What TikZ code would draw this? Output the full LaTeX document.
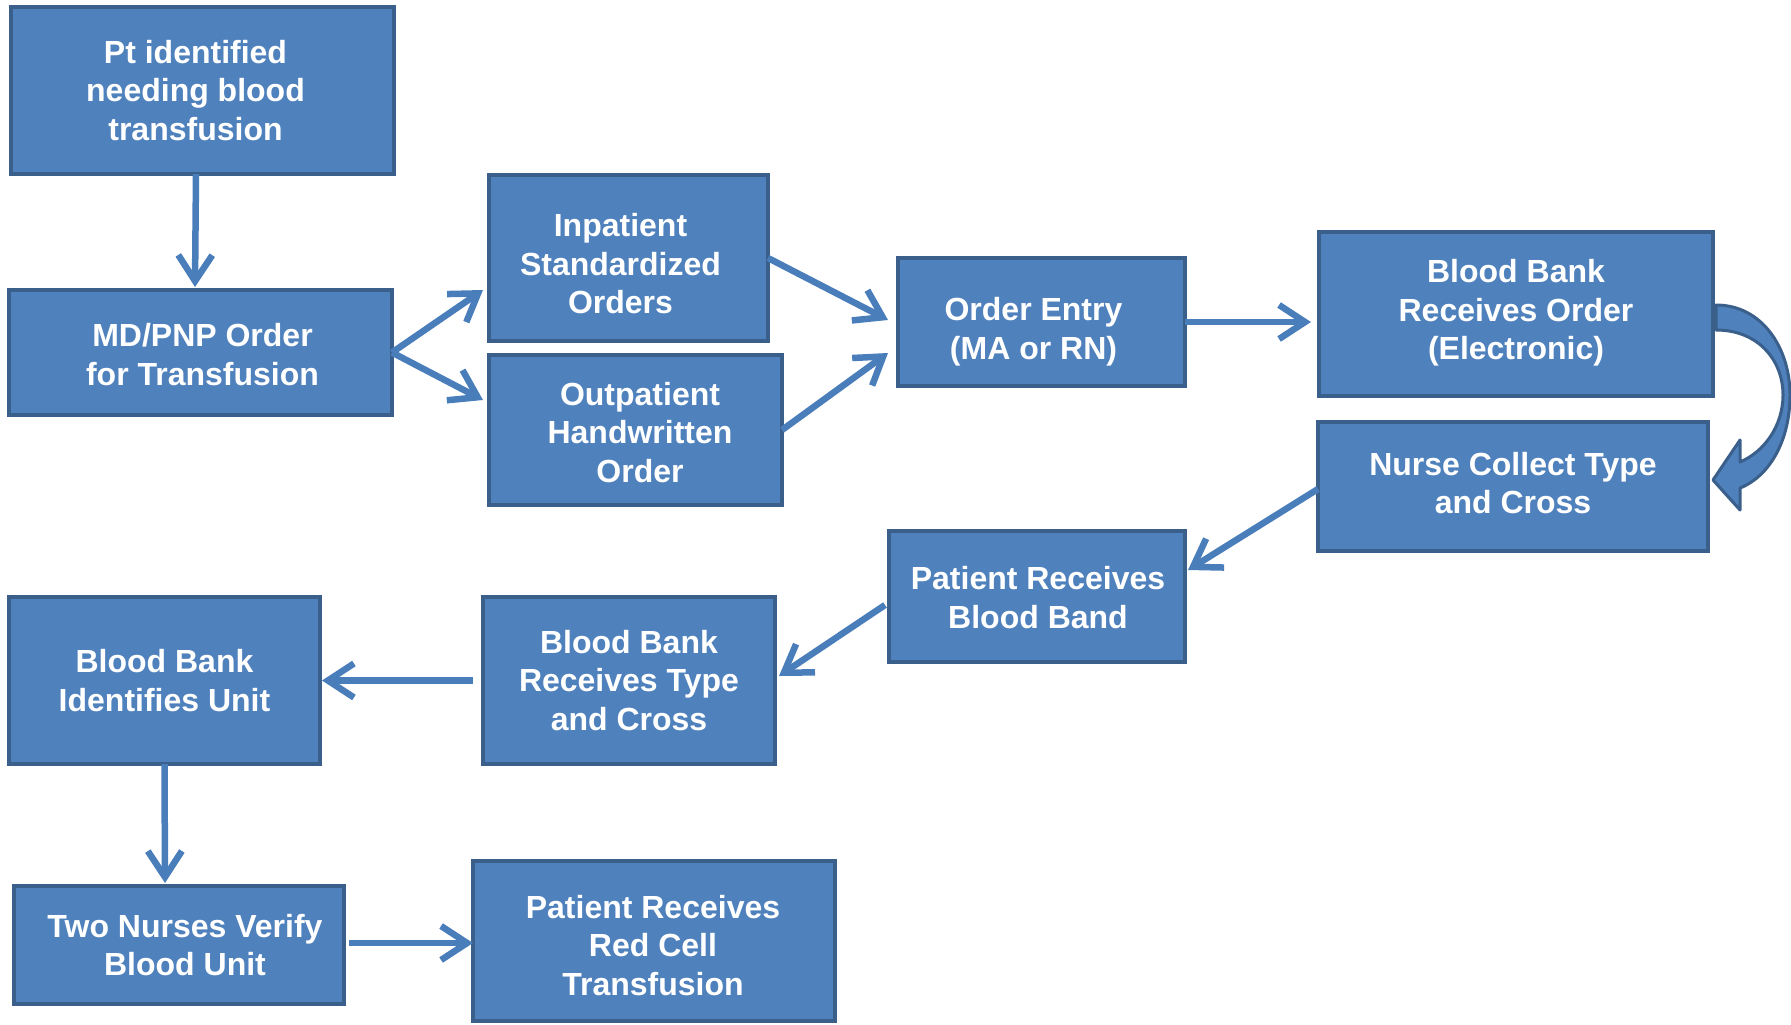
\documentclass[tikz,border=0pt]{standalone}
\usepackage{fontspec}
\setmainfont{Liberation Sans}
\usetikzlibrary{arrows.meta}
\definecolor{boxfill}{HTML}{4F81BD}
\definecolor{boxline}{HTML}{3A5F8B}
\definecolor{arrowc}{HTML}{4A7EBB}
\begin{document}
\begin{tikzpicture}[x=1pt,y=-1pt,
  procbox/.style={draw=boxline, fill=boxfill, line width=4.5pt, inner sep=0pt, outer sep=0pt},
  boxtext/.style={text=white, font=\bfseries\fontsize{32}{38.5}\selectfont, align=center, inner sep=0pt},
  flow/.style={draw=arrowc, line width=6.5pt, -{Straight Barb[length=26pt,width=34pt]}}]
\useasboundingbox (0,0) rectangle (1791,1025);

% boxes
\node[procbox, minimum width=383pt, minimum height=167pt] (b1) at (202.5,90.5) {};
\node[procbox, minimum width=383pt, minimum height=125pt] (b2) at (200.5,352.5) {};
\node[procbox, minimum width=279pt, minimum height=166pt] (b3) at (628.5,258) {};
\node[procbox, minimum width=293pt, minimum height=150pt] (b4) at (635.5,430) {};
\node[procbox, minimum width=287pt, minimum height=128pt] (b5) at (1041.5,322) {};
\node[procbox, minimum width=394pt, minimum height=164pt] (b6) at (1516,314) {};
\node[procbox, minimum width=390pt, minimum height=129pt] (b7) at (1513,486.5) {};
\node[procbox, minimum width=296pt, minimum height=131pt] (b8) at (1037,596.5) {};
\node[procbox, minimum width=292pt, minimum height=167pt] (b9) at (629,680.5) {};
\node[procbox, minimum width=311pt, minimum height=167pt] (b10) at (164.5,680.5) {};
\node[procbox, minimum width=330pt, minimum height=118pt] (b11) at (179,945) {};
\node[procbox, minimum width=362pt, minimum height=160pt] (b12) at (654,941) {};

% texts
\node[boxtext] (t1) at ([xshift=-7pt]b1.center) {Pt identified\\needing blood\\transfusion};
\node[boxtext] (t2) at ([xshift=2pt,yshift=-2pt]b2.center) {MD/PNP Order\\for Transfusion};
\node[boxtext] (t3) at ([xshift=-8pt,yshift=-6pt]b3.center) {Inpatient\\Standardized\\Orders};
\node[boxtext] (t4) at ([xshift=4.5pt,yshift=-2.5pt]b4.center) {Outpatient\\Handwritten\\Order};
\node[boxtext] (t5) at ([xshift=-8pt,yshift=-9.5pt]b5.center) {Order Entry\\(MA or RN)};
\node[boxtext] (t6) at ([yshift=1pt]b6.center) {Blood Bank\\Receives Order\\(Electronic)};
\node[boxtext] (t7) at ([yshift=3.4pt]b7.center) {Nurse Collect Type\\and Cross};
\node[boxtext] (t8) at ([xshift=1pt,yshift=-1pt]b8.center) {Patient Receives\\Blood Band};
\node[boxtext] (t9) at (b9.center) {Blood Bank\\Receives Type\\and Cross};
\node[boxtext] (t10) at (b10.center) {Blood Bank\\Identifies Unit};
\node[boxtext] (t11) at ([xshift=6pt]b11.center) {Two Nurses Verify\\Blood Unit};
\node[boxtext] (t12) at ([xshift=-1pt,yshift=-4.5pt]b12.center) {Patient Receives\\Red Cell\\Transfusion};

% connectors
\draw[flow] ([xshift=-6.5pt]b1.south) -- ([xshift=-5.5pt,yshift=3pt]b2.north);
\draw[flow] (b2.east) -- ([xshift=-6pt,yshift=-32pt]b3.west);
\draw[flow] (b2.east) -- ([xshift=-6pt,yshift=30pt]b4.west);
\draw[flow] (b3.east) -- ([xshift=-10pt,yshift=2pt]b5.west);
\draw[flow] (b4.east) -- ([xshift=-10pt,yshift=-31pt]b5.west);
\draw[flow] (b5.east) -- ([xshift=-8pt,yshift=-8pt]b6.west);
\draw[flow] ([yshift=-2.5pt]b7.west) -- ([xshift=3pt,yshift=26.5pt]b8.east);
\draw[flow] ([xshift=-4pt,yshift=-8.5pt]b8.west) -- ([xshift=4pt,yshift=4.5pt]b9.east);
\draw[flow] ([xshift=-10pt]b9.west) -- ([xshift=2pt]b10.east);
\draw[flow] (b10.south) -- ([xshift=-14pt,yshift=3pt]b11.north);
\draw[flow] ([xshift=5pt,yshift=2pt]b11.east) -- ([yshift=-2pt]b12.west);

% curved block arrow from b6 to b7
\draw[draw=boxline, fill=boxfill, line width=3pt, line join=round]
  (1716,305) .. controls (1762,305) and (1790,348) .. (1790,395)
  .. controls (1790,440) and (1770,476) .. (1740,488)
  -- (1740,510) -- (1713,480) -- (1740,440) -- (1740,462)
  .. controls (1764,452) and (1783,426) .. (1783,395)
  .. controls (1783,360) and (1758,330) .. (1716,330) -- cycle;
\end{tikzpicture}
\end{document}
